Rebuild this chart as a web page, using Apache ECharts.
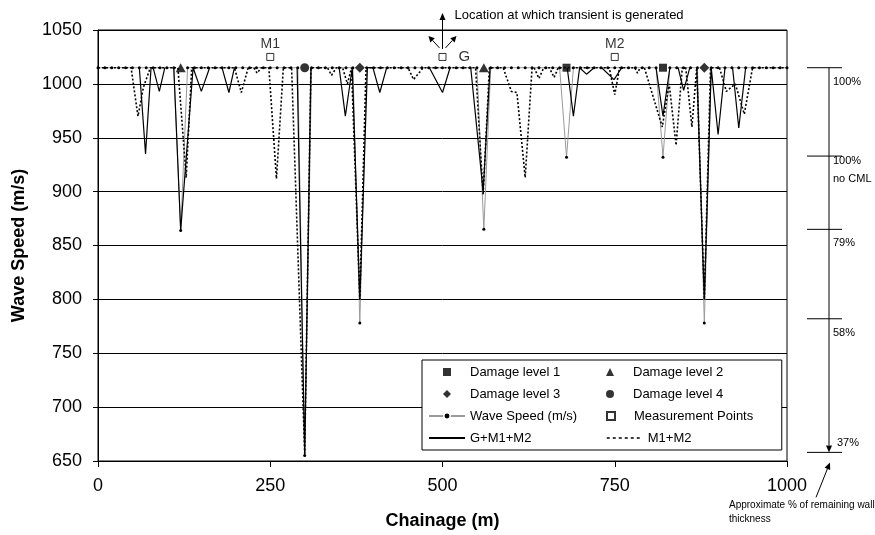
<!DOCTYPE html>
<html>
<head>
<meta charset="utf-8">
<script src="https://cdn.jsdelivr.net/npm/echarts@6/dist/echarts.min.js"></script>
<style>
  html, body { margin: 0; padding: 0; background: #fff; }
  #chart { width: 875px; height: 535px; }
</style>
</head>
<body>
<div id="chart"></div>
<script>
// ---- axis ranges and ticks ----
const chainageTicks = [0, 250, 500, 750, 1000];
const speedTicks = [650, 700, 750, 800, 850, 900, 950, 1000, 1050];

// ---- wave speed sampled every 10 m of chainage ----
const waveChainage = [
  0, 10, 20, 30, 40, 50, 60, 70, 80, 90,
  100, 110, 120, 130, 140, 150, 160, 170, 180, 190,
  200, 210, 220, 230, 240, 250, 260, 270, 280, 290,
  300, 310, 320, 330, 340, 350, 360, 370, 380, 390,
  400, 410, 420, 430, 440, 450, 460, 470, 480, 490,
  500, 510, 520, 530, 540, 550, 560, 570, 580, 590,
  600, 610, 620, 630, 640, 650, 660, 670, 680, 690,
  700, 710, 720, 730, 740, 750, 760, 770, 780, 790,
  800, 810, 820, 830, 840, 850, 860, 870, 880, 890,
  900, 910, 920, 930, 940, 950, 960, 970, 980, 990,
  1000
];
const waveSpeed = [
  1015, 1015, 1015, 1015, 1015, 1015, 1015, 1015, 1015, 1015,
  1015, 1015, 864, 1015, 1015, 1015, 1015, 1015, 1015, 1015,
  1015, 1015, 1015, 1015, 1015, 1015, 1015, 1015, 1015, 1015,
  655, 1015, 1015, 1015, 1015, 1015, 1015, 1015, 778, 1015,
  1015, 1015, 1015, 1015, 1015, 1015, 1015, 1015, 1015, 1015,
  1015, 1015, 1015, 1015, 1015, 1015, 865, 1015, 1015, 1015,
  1015, 1015, 1015, 1015, 1015, 1015, 1015, 1015, 932, 1015,
  1015, 1015, 1015, 1015, 1015, 1015, 1015, 1015, 1015, 1015,
  1015, 1015, 932, 1015, 1015, 1015, 1015, 1015, 778, 1015,
  1015, 1015, 1015, 1015, 1015, 1015, 1015, 1015, 1015, 1015,
  1015
];

// ---- G+M1+M2 combined estimate (null = gap between dips) ----
const solidChainage = [
  60, 69, 77, 78,
  80, 89, 97, 100,
  110, 120, 138, 150, 162, 170,
  180, 190, 198, 250,
  289, 300, 309, 330,
  350, 359, 369, 380, 391, 395, 399, 409, 419, 450,
  481, 500, 511, 530,
  541, 559, 569, 600,
  681, 690, 699, 709, 720, 725,
  731, 749, 760, 790,
  810, 820, 830, 835,
  842, 850, 859, 865,
  869, 880, 890, 900, 910, 915,
  921, 930, 940
];
const solidSpeed = [
  1015, 935, 1015, null,
  1015, 993, 1015, null,
  1015, 864, 1015, 993, 1015, null,
  1015, 992, 1015, null,
  1015, 655, 1015, null,
  1015, 970, 1015, 800, 1015, 1015, 1015, 992, 1015, null,
  1015, 992, 1015, null,
  1015, 900, 1015, null,
  1015, 970, 1015, 1009, 1015, null,
  1015, 1004, 1015, null,
  1015, 970, 1015, null,
  1015, 994, 1015, null,
  1015, 800, 1015, 953, 1015, null,
  1015, 959, 1015
];

// ---- M1+M2 estimate ----
const dottedChainage = [
  0, 48, 58, 66, 76,
  116, 128, 136,
  198, 208, 218,
  226, 231, 237,
  248, 259, 269,
  281, 300, 309,
  333, 339, 346,
  355, 362, 368,
  370, 380, 389,
  450, 458, 472,
  548, 559, 568,
  588, 600, 608, 620, 630,
  633, 640, 647,
  655, 662, 668,
  742, 750, 757,
  779, 783, 787,
  793, 819, 829, 839, 848,
  853, 862, 869,
  870, 880, 889,
  902, 912, 925, 938, 950,
  1000
];
const dottedSpeed = [
  1015, 1015, 970, 997, 1015,
  1015, 913, 1015,
  1015, 992, 1015,
  1015, 1010, 1015,
  1015, 912, 1015,
  1015, 657, 1015,
  1015, 1008, 1015,
  1015, 1000, 1015,
  1015, 800, 1015,
  1015, 1004, 1015,
  1015, 897, 1015,
  1015, 993, 992, 913, 1015,
  1015, 1005, 1015,
  1015, 1006, 1015,
  1015, 990, 1015,
  1015, 1010, 1015,
  1015, 960, 1000, 943, 1015,
  1015, 960, 1015,
  1015, 800, 1015,
  1015, 993, 1000, 972, 1015,
  1015
];

// ---- damage locations ----
const damage1Chainage = [680, 820];
const damage1Speed = [1015, 1015];
const damage2Chainage = [120, 560];
const damage2Speed = [1015, 1015];
const damage3Chainage = [380, 880];
const damage3Speed = [1015, 1015];
const damage4Chainage = [300];
const damage4Speed = [1015];

// ---- measurement / generator positions ----
const measChainage = [250, 500, 750];
const measSpeed = [1025, 1025, 1025];
const measNames = ['M1', 'G', 'M2'];

// ---- remaining wall thickness scale ----
const wallSpeed = [1015, 933, 865, 782, 658];
const wallLabels = ['100%', '100%\nno CML', '79%', '58%', '37%'];

const FONT = '"Liberation Sans", Arial, sans-serif';

function pairs(xs, ys) {
  return xs.map((x, i) => [x, ys[i]]);
}

const chart = echarts.init(document.getElementById('chart'), null, { renderer: 'canvas' });

const option = {
  animation: false,
  backgroundColor: '#fff',
  textStyle: { fontFamily: FONT, color: '#000' },
  grid: {
    left: 98, right: 88, top: 30, bottom: 73,
    show: true, borderColor: '#000', borderWidth: 1, backgroundColor: 'transparent'
  },
  xAxis: {
    type: 'value',
    min: chainageTicks[0], max: chainageTicks[chainageTicks.length - 1], interval: 250,
    name: 'Chainage (m)', nameLocation: 'middle', nameGap: 51,
    nameTextStyle: { fontSize: 18, fontWeight: 'bold', color: '#000', fontFamily: FONT },
    axisLine: { lineStyle: { color: '#000', width: 1 } },
    axisTick: { show: true, inside: false, length: 6, lineStyle: { color: '#000' } },
    axisLabel: { fontSize: 18, color: '#000', margin: 16, fontFamily: FONT, formatter: v => String(v) },
    splitLine: { show: false }
  },
  yAxis: {
    type: 'value',
    min: speedTicks[0], max: speedTicks[speedTicks.length - 1], interval: 50,
    name: 'Wave Speed (m/s)', nameLocation: 'middle', nameGap: 70,
    nameTextStyle: { fontSize: 18, fontWeight: 'bold', color: '#000', fontFamily: FONT },
    axisLine: { show: true, lineStyle: { color: '#000', width: 1 } },
    axisTick: { show: true, inside: false, length: 5, lineStyle: { color: '#000' } },
    axisLabel: { fontSize: 18, color: '#000', margin: 16, fontFamily: FONT, formatter: v => String(v) },
    splitLine: { show: true, lineStyle: { color: '#000', width: 1 } }
  },
  legend: {
    left: 422, top: 360, width: 360,
    orient: 'horizontal',
    itemWidth: 36, itemHeight: 8, itemGap: 8,
    backgroundColor: '#fff', borderColor: '#000', borderWidth: 1,
    padding: [5, 6, 5, 6],
    selectedMode: false,
    textStyle: { fontSize: 13, color: '#000', width: 128, lineHeight: 14, fontFamily: FONT },
    data: [
      { name: 'Damage level 1', icon: 'path://M0,0L10,0L10,10L0,10Z' },
      { name: 'Damage level 2', icon: 'path://M5,0L10,10L0,10Z' },
      { name: 'Damage level 3', icon: 'path://M5,0L10,5L5,10L0,5Z' },
      { name: 'Damage level 4', icon: 'circle' },
      { name: 'Wave Speed (m/s)', itemStyle: { borderColor: '#fff', borderWidth: 1.5 } },
      { name: 'Measurement Points', icon: 'path://M0,0L10,0L10,10L0,10Z' },
      { name: 'G+M1+M2', itemStyle: { opacity: 0 } },
      { name: 'M1+M2', itemStyle: { opacity: 0 }, lineStyle: { type: [3, 3], width: 1.5 } }
    ]
  },
  series: [
    {
      name: 'Wave Speed (m/s)', type: 'line', z: 2,
      data: pairs(waveChainage, waveSpeed),
      symbol: 'circle', symbolSize: 3, showSymbol: true, showAllSymbol: true,
      itemStyle: { color: '#000' },
      lineStyle: { color: '#9a9a9a', width: 1 },
      emphasis: { disabled: true }
    },
    {
      name: 'G+M1+M2', type: 'line', z: 3,
      data: pairs(solidChainage, solidSpeed),
      symbol: 'none', connectNulls: false,
      itemStyle: { color: '#000' },
      lineStyle: { color: '#000', width: 1.2 },
      emphasis: { disabled: true }
    },
    {
      name: 'M1+M2', type: 'line', z: 4,
      data: pairs(dottedChainage, dottedSpeed),
      symbol: 'none',
      itemStyle: { color: '#000' },
      lineStyle: { color: '#000', width: 1.6, type: [2, 2] },
      emphasis: { disabled: true }
    },
    {
      name: 'Damage level 1', type: 'scatter', z: 5,
      data: pairs(damage1Chainage, damage1Speed),
      symbol: 'rect', symbolSize: 8, itemStyle: { color: '#000' }
    },
    {
      name: 'Damage level 2', type: 'scatter', z: 5,
      data: pairs(damage2Chainage, damage2Speed),
      symbol: 'triangle', symbolSize: [10, 9], itemStyle: { color: '#000' }
    },
    {
      name: 'Damage level 3', type: 'scatter', z: 5,
      data: pairs(damage3Chainage, damage3Speed),
      symbol: 'diamond', symbolSize: 10, itemStyle: { color: '#000' }
    },
    {
      name: 'Damage level 4', type: 'scatter', z: 5,
      data: pairs(damage4Chainage, damage4Speed),
      symbol: 'circle', symbolSize: 9, itemStyle: { color: '#000' }
    },
    {
      name: 'Measurement Points', type: 'scatter', z: 5,
      data: measChainage.map((x, i) => ({
        value: [x, measSpeed[i]],
        name: measNames[i],
        label: measNames[i] === 'G'
          ? { show: true, position: 'right', distance: 12, fontSize: 15 }
          : { show: true, position: 'top', distance: 2, fontSize: 14 }
      })),
      symbol: 'rect', symbolSize: 7,
      itemStyle: { color: '#fff', borderColor: '#000', borderWidth: 1 },
      label: { formatter: '{b}', color: '#000', fontFamily: FONT }
    }
  ]
};

chart.setOption(option);

// ---- annotations placed from data coordinates ----
function px(x, y) {
  return chart.convertToPixel({ gridIndex: 0 }, [x, y]);
}

function arrow(x1, y1, x2, y2, head, half) {
  const dx = x2 - x1, dy = y2 - y1;
  const len = Math.sqrt(dx * dx + dy * dy);
  const ux = dx / len, uy = dy / len;
  const bx = x2 - ux * head, by = y2 - uy * head;
  return [
    { type: 'line', shape: { x1: x1, y1: y1, x2: bx, y2: by }, style: { stroke: '#000', lineWidth: 1 } },
    {
      type: 'polygon',
      shape: { points: [[x2, y2], [bx - uy * half, by + ux * half], [bx + uy * half, by - ux * half]] },
      style: { fill: '#000' }
    }
  ];
}

const g = px(measChainage[1], measSpeed[1]);
const plotRight = px(chainageTicks[chainageTicks.length - 1], speedTicks[0])[0];
const xR = plotRight + 42;
const wallY = wallSpeed.map(v => px(chainageTicks[0], v)[1]);
const yLast = wallY[wallY.length - 1];

let gfx = [];
// transient location arrows
gfx = gfx.concat(arrow(g[0], g[1] - 8, g[0], g[1] - 44, 7, 3));
gfx = gfx.concat(arrow(g[0] - 3, g[1] - 9, g[0] - 14, g[1] - 21, 6, 3));
gfx = gfx.concat(arrow(g[0] + 3, g[1] - 9, g[0] + 14, g[1] - 21, 6, 3));
gfx.push({
  type: 'text', x: g[0] + 12, y: g[1] - 42,
  style: { text: 'Location at which transient is generated', font: '13px ' + FONT, fill: '#000', verticalAlign: 'middle' }
});

// remaining wall thickness scale
wallY.forEach((y, i) => {
  gfx.push({ type: 'line', shape: { x1: xR - 22, y1: y, x2: xR + 13, y2: y }, style: { stroke: '#000', lineWidth: 1 } });
  const last = i === wallY.length - 1;
  gfx.push({
    type: 'text', x: last ? xR + 8 : xR + 4, y: last ? y - 9 : y + 14,
    style: { text: wallLabels[i], font: '11px ' + FONT, fill: '#000', verticalAlign: 'middle', lineHeight: 18 }
  });
});
gfx = gfx.concat(arrow(xR, wallY[0], xR, yLast, 7, 3));

// note on the scale
gfx = gfx.concat(arrow(xR - 13, yLast + 45, xR + 1, yLast + 10, 7, 3));
gfx.push({
  type: 'text', x: plotRight - 58, y: yLast + 60,
  style: { text: 'Approximate % of remaining wall\nthickness', font: '10px ' + FONT, fill: '#000', verticalAlign: 'middle', lineHeight: 14 }
});

chart.setOption({ graphic: gfx });
</script>
</body>
</html>
